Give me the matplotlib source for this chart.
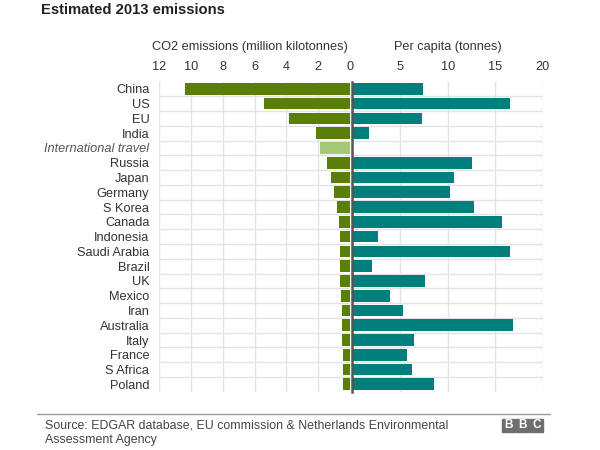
import matplotlib
matplotlib.use('Agg')
import matplotlib.pyplot as plt
from matplotlib.patches import Rectangle
from matplotlib.lines import Line2D
import numpy as np

plt.rcParams['font.family'] = ['Liberation Sans', 'DejaVu Sans']

# data
countries = ['China', 'US', 'EU', 'India', 'International travel', 'Russia',
             'Japan', 'Germany', 'S Korea', 'Canada', 'Indonesia',
             'Saudi Arabia', 'Brazil', 'UK', 'Mexico', 'Iran', 'Australia',
             'Italy', 'France', 'S Africa', 'Poland']
co2 = [10.38, 5.39, 3.82, 2.16, 1.9, 1.47, 1.19, 0.99, 0.8, 0.67, 0.63,
       0.61, 0.61, 0.61, 0.57, 0.5, 0.5, 0.5, 0.44, 0.44, 0.44]
per_capita = [7.36, 16.6, 7.3, 1.72, 0, 12.6, 10.7, 10.24, 12.78, 15.73, 2.6,
              16.6, 2.0, 7.57, 3.94, 5.31, 16.93, 6.44, 5.73, 6.26, 8.52]
left_ticks = [12, 10, 8, 6, 4, 2, 0]
right_ticks = [5, 10, 15, 20]

green = '#5a7f06'
light_green = '#a5c878'
teal = '#00807c'
grid = '#e3e3e3'
txt = '#333333'

W, H = 600, 450
fig = plt.figure(figsize=(6, 4.5), dpi=100)

def fx(px):
    return px / W

def fy(py):
    return 1 - py / H

top, bottom = 81.5, 391.7
axl = fig.add_axes([fx(159), fy(bottom), fx(350 - 159), (bottom - top) / H])
axr = fig.add_axes([fx(353), fy(bottom), fx(542.5 - 353), (bottom - top) / H])

y = np.arange(len(countries))
bar_colors = [light_green if c == 'International travel' else green for c in countries]
axl.barh(y, co2, height=0.79, color=bar_colors)
axr.barh(y, per_capita, height=0.79, color=teal)

for ax in (axl, axr):
    ax.set_ylim(len(countries) - 0.5, -0.5)
    for s in ax.spines.values():
        s.set_visible(False)
    ax.xaxis.tick_top()
    ax.tick_params(axis='x', length=0, pad=6, labelsize=9.2, labelcolor=txt)
    ax.tick_params(axis='y', length=0)
    ax.grid(axis='x', color=grid, lw=1)
    ax.set_axisbelow(True)
    for i in range(len(countries) - 1):
        ax.axhline(i + 0.5, color=grid, lw=1, zorder=0)

axl.set_xlim(12, 0)
axl.set_xticks(left_ticks)
axl.set_xticklabels([str(t) for t in left_ticks])
axl.set_yticks(y)
axl.set_yticklabels(countries, fontsize=9.2, color=txt)
axl.tick_params(axis='y', pad=7)
for lab in axl.get_yticklabels():
    if lab.get_text() == 'International travel':
        lab.set_style('italic')
        lab.set_color('#555555')

axr.set_xlim(0, 20)
axr.set_xticks(right_ticks)
axr.set_yticks([])

# zero divider
fig.add_artist(Line2D([fx(351.5), fx(351.5)], [fy(81.5), fy(392)], color='#555555', lw=1.8))

fig.text(fx(41), fy(10), 'Estimated 2013 emissions', fontsize=10.6, fontweight='bold',
         color='#222222', va='center', ha='left')
fig.text(fx(250), fy(47), 'CO2 emissions (million kilotonnes)', fontsize=9.2,
         color=txt, va='center', ha='center')
fig.text(fx(448), fy(47), 'Per capita (tonnes)', fontsize=9.2, color=txt,
         va='center', ha='center')

# footer
fig.add_artist(Line2D([fx(37), fx(550)], [fy(414), fy(414)], color='#999999', lw=1))
fig.text(fx(45), fy(425), 'Source: EDGAR database, EU commission & Netherlands Environmental',
         fontsize=8.9, color='#444444', va='center', ha='left')
fig.text(fx(45), fy(440), 'Assessment Agency', fontsize=8.9, color='#444444',
         va='center', ha='left')
for k, ch in enumerate('BBC'):
    x0 = 502 + k * 14.2
    fig.add_artist(Rectangle((fx(x0), fy(432)), fx(13), 13 / H, color='#6e6e6e',
                             transform=fig.transFigure))
    fig.text(fx(x0 + 6.5), fy(425.5), ch, fontsize=8.5, fontweight='bold',
             color='white', ha='center', va='center')

fig.savefig('out.png', dpi=100)
